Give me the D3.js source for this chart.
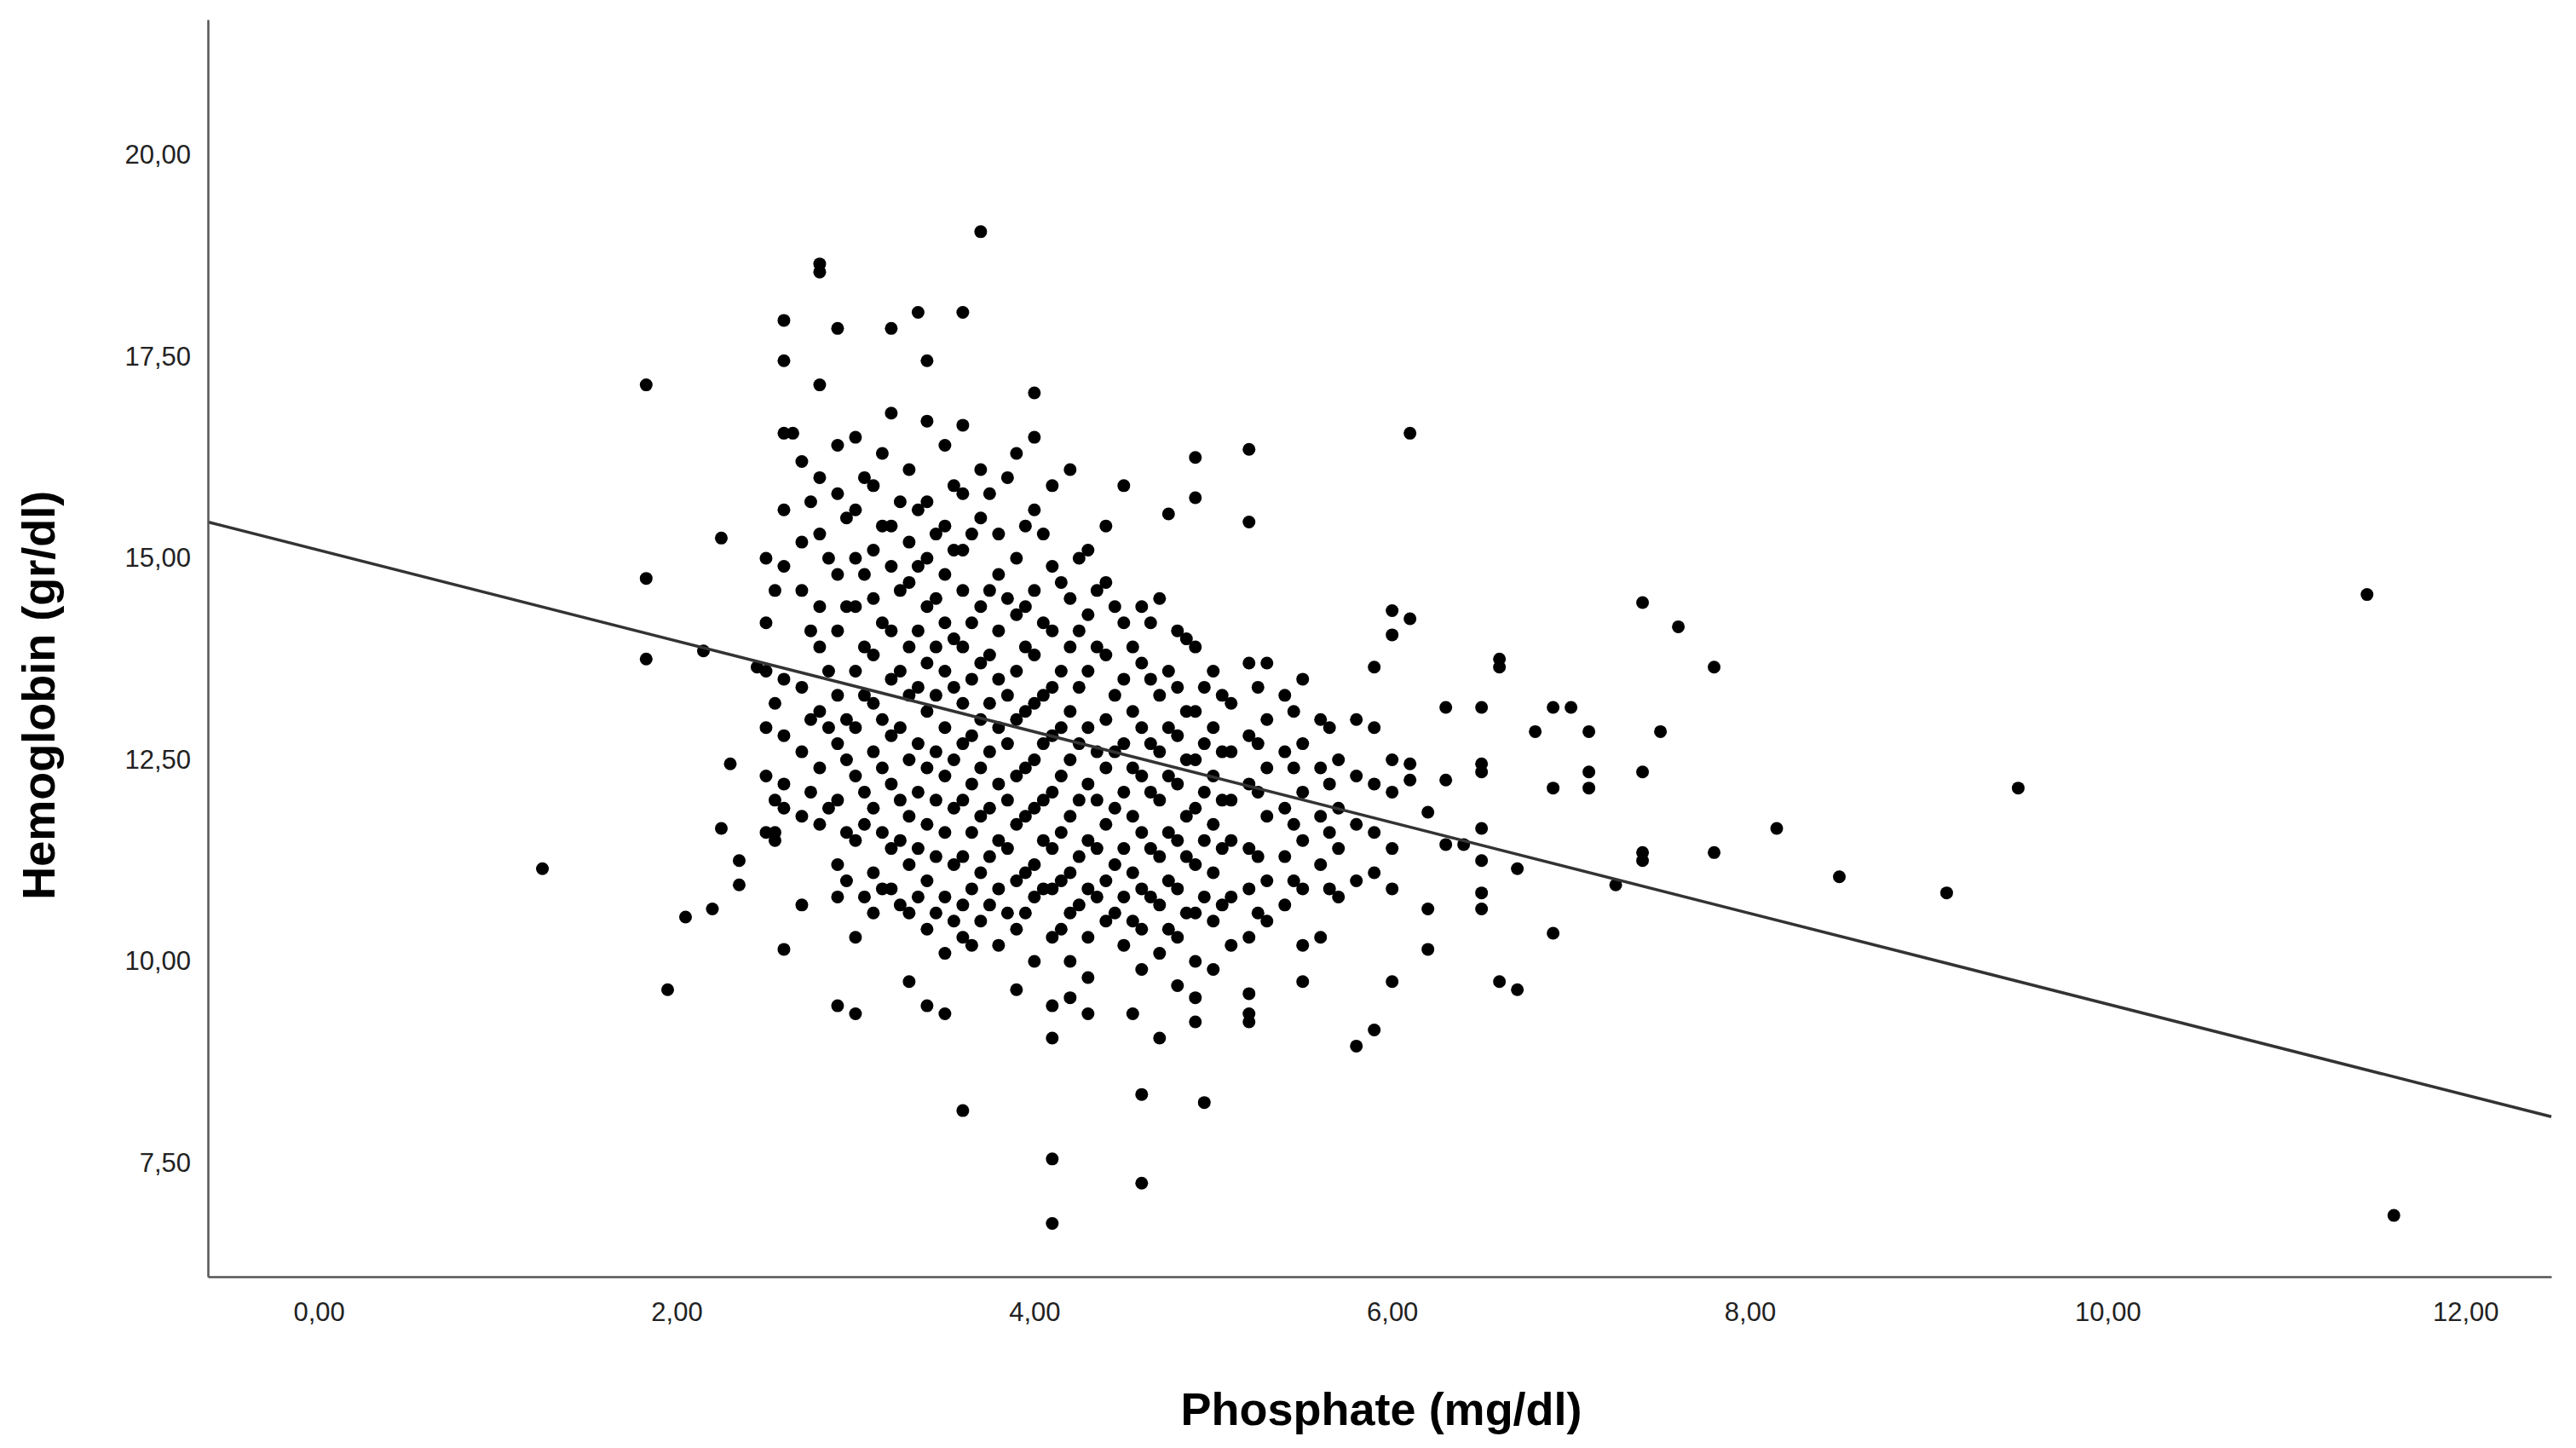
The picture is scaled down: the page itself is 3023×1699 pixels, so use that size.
<!DOCTYPE html>
<html>
<head>
<meta charset="UTF-8">
<title>Hemoglobin vs Phosphate</title>
<script src="https://d3js.org/d3.v7.min.js"></script>
<style>
  body{ margin:0; background:white; }
  svg text{ font-family: Arial, "Liberation Sans", sans-serif; }
</style>
</head>
<body>
<svg id="chart"></svg>
<script>
// scattered / outlying cases [phosphate, hemoglobin]
const outliers = [
  [1.25,11.15],[1.83,17.15],[1.83,14.75],[1.83,13.75],[1.95,9.65],[2.05,10.55],[2.15,13.85],[2.2,10.65],
  [2.25,11.65],[2.25,15.25],[2.3,12.45],[2.35,11.25],[2.35,10.95],[2.55,11.6],[2.55,11.5],[2.6,10.15],
  [2.6,17.95],[2.6,17.45],[2.8,18.65],[2.8,18.55],[3.7,19.05],[3.35,18.05],[3.6,18.05],[2.9,17.85],
  [3.2,17.85],[3.4,17.45],[4.0,17.05],[3.6,16.65],[2.6,16.55],[2.65,16.55],[2.8,17.15],[3.6,8.15],
  [4.1,7.55],[4.1,6.75],[4.6,7.25],[4.6,8.35],[4.95,8.25],[6.1,16.55],[5.2,16.35],[4.9,16.25],
  [4.75,15.55],[4.9,15.75],[5.2,15.45],[7.4,14.45],[7.6,14.15],[7.8,13.65],[7.5,12.85],[7.4,12.35],
  [7.4,11.35],[7.4,11.25],[7.25,10.95],[7.8,11.35],[8.15,11.65],[8.5,11.05],[9.1,10.85],[9.5,12.15],
  [11.45,14.55],[11.6,6.85],[6.9,10.35],[6.7,9.65],[6.6,9.75],[7.0,13.15],[7.1,12.85],[7.1,12.35],
  [7.1,12.15],[6.9,12.15],[6.8,12.85],[6.7,11.15],[6.5,10.65],[6.2,10.15],[6.2,10.65],[5.8,8.95],
  [5.9,9.15],[6.0,9.75],[5.5,9.75],[5.2,9.25],[5.2,9.35],[4.9,9.25],[4.9,9.55],[4.7,9.05],
  [4.55,9.35],[4.3,9.35],[4.1,9.05],[4.1,9.45],[4.2,9.55],[3.9,9.65],[3.4,9.45],[3.5,9.35],
  [3.3,9.75],[2.9,9.45],[3.0,9.35],[6.6,13.75],[6.6,13.65],[6.0,14.35],[6.1,14.25],[6.0,14.05],
  [5.9,13.65],[6.5,13.15],[6.3,13.15],[6.5,12.45],[6.5,12.35],[6.3,12.25],[6.5,11.65],[6.5,11.25],
  [6.4,11.45],[6.5,10.85],[6.9,13.15],[6.1,12.45],[6.1,12.25],[6.2,11.85],[6.3,11.45],[2.45,13.65]
];

// dense cloud: phosphate values and the hemoglobin values seen at each
const denseX = [2.5,2.6,2.7,2.8,2.9,3.0,3.1,3.2,3.3,3.4,3.5,3.6,3.7,3.8,3.9,4.0,4.1,4.2,
                4.3,4.4,4.5,4.6,4.7,4.8,4.9,5.0,5.1,5.2,5.3,5.4,5.5,5.6,5.7,5.8,5.9,6.0];
const denseY = [
  [15.0,14.2,13.6,12.9,12.3,11.6],
  [15.6,14.9,13.5,12.8,12.2,11.9],
  [16.2,15.2,14.6,13.4,12.6,11.8,10.7],
  [16.0,15.3,14.4,13.9,13.1,12.4,11.7],
  [16.4,15.8,14.8,14.1,13.3,12.7,12.0,11.2,10.8],
  [16.5,15.6,15.0,14.4,13.6,12.9,12.3,11.5,10.3],
  [15.9,15.1,14.5,13.8,13.2,12.6,11.9,11.1,10.6],
  [16.8,15.4,14.9,14.1,13.5,12.8,12.2,11.4,10.9],
  [16.1,15.2,14.7,13.9,13.3,12.5,11.8,11.2,10.6],
  [16.7,15.7,15.0,14.4,13.7,13.1,12.4,11.7,11.0,10.4],
  [16.4,15.4,14.8,14.2,13.6,12.9,12.3,11.6,10.8,10.1],
  [15.8,15.1,14.6,13.9,13.2,12.7,12.0,11.3,10.7,10.3],
  [16.1,15.5,14.4,13.7,13.0,12.4,11.8,11.1,10.5],
  [15.3,14.8,14.1,13.5,12.9,12.2,11.5,10.9,10.2],
  [16.3,15.0,14.3,13.6,13.0,12.3,11.7,11.0,10.4],
  [16.5,15.6,14.6,13.8,13.2,12.5,11.9,11.2,10.8,10.0],
  [15.9,14.9,14.1,13.4,12.8,12.1,11.4,10.9,10.3],
  [16.1,14.5,13.9,13.1,12.5,11.8,11.1,10.6,10.0],
  [15.1,14.3,13.6,12.9,12.2,11.5,10.9,10.3,9.8],
  [15.4,14.7,13.8,13.0,12.4,11.7,11.0,10.5],
  [15.9,14.2,13.5,12.7,12.1,11.4,10.8,10.2],
  [14.4,13.7,12.9,12.3,11.6,10.9,10.4,9.9],
  [14.5,13.3,12.6,12.0,11.3,10.7,10.1],
  [14.1,13.4,12.8,12.2,11.5,10.9,10.3,9.7],
  [13.9,13.1,12.5,11.9,11.2,10.6,10.0],
  [13.6,12.9,12.3,11.7,11.1,10.5,9.9],
  [13.2,12.6,12.0,11.5,10.8,10.2],
  [13.7,12.8,12.2,11.4,10.9,10.3,9.6],
  [13.7,13.0,12.4,11.8,11.0,10.5],
  [13.3,12.6,11.9,11.3,10.7],
  [13.5,12.7,12.1,11.5,10.9,10.2],
  [13.0,12.4,11.8,11.2,10.3],
  [12.5,11.9,11.4,10.8],
  [13.0,12.3,11.7,11.0],
  [12.9,12.2,11.6,11.1],
  [12.5,12.1,11.4,10.9]
];

// second reading of the cloud, cases lying between the columns above
const denseX2 = [2.55,2.75,2.85,2.95,3.05,3.15,3.25,3.35,3.45,3.55,3.65,3.75,3.85,3.95,
                 4.05,4.15,4.25,4.35,4.45,4.55,4.65,4.75,4.85,4.95,5.05,5.25,5.45,5.65];
const denseY2 = [
  [14.6,13.2,12.0],
  [15.7,14.1,13.0,12.1],
  [15.0,13.6,12.9,11.9],
  [15.5,14.4,13.0,12.5,11.6,11.0],
  [16.0,14.8,13.9,13.3,12.1,11.7,10.8],
  [16.3,15.4,14.2,13.0,12.4,11.6,10.9],
  [15.7,14.6,13.6,12.9,12.0,11.5,10.7],
  [15.6,14.9,14.1,13.4,12.7,12.1,11.4,10.8],
  [15.3,14.5,13.9,13.3,12.6,12.0,11.3,10.6],
  [15.9,15.1,14.0,13.4,12.5,11.9,11.2,10.5],
  [15.3,14.2,13.5,12.8,12.2,11.6,10.9,10.2],
  [15.8,14.6,13.8,13.2,12.6,11.9,11.3,10.7],
  [16.0,14.5,13.3,12.7,12.0,11.4,10.6],
  [15.4,14.4,13.9,13.1,12.4,11.8,11.1,10.6],
  [15.3,14.2,13.3,12.7,12.0,11.5,10.9],
  [14.7,13.6,12.9,12.3,11.6,11.0,10.4],
  [15.0,14.1,13.4,12.7,12.0,11.3,10.7],
  [14.6,13.9,12.6,12.0,11.4,10.8],
  [14.4,13.3,12.6,11.9,11.2,10.6],
  [13.9,13.1,12.4,11.8,11.1,10.5],
  [14.2,13.5,12.7,12.1,11.4,10.8],
  [13.6,12.9,12.3,11.6,11.0,10.4],
  [14.0,13.1,12.5,11.8,11.3,10.6],
  [13.4,12.7,12.1,11.5,10.8],
  [13.3,12.6,12.0,11.4,10.7],
  [13.4,12.7,12.1,11.3,10.6],
  [13.1,12.4,11.7,11.0],
  [12.9,12.2,11.6,10.9]
];

const xTicks = [0,2,4,6,8,10,12];
const yTicks = [7.5,10,12.5,15,17.5,20];
const fitLine = {intercept: 15.10, slope: -0.563};

const fmt = d => d3.format(".2f")(d).replace(".", ",");

const W = 3023, H = 1699;
const m = {left:244, right:29, top:23, bottom:201};
const iw = W - m.left - m.right, ih = H - m.top - m.bottom;

const svg = d3.select("#chart").attr("width", W).attr("height", H);
const g = svg.append("g").attr("transform", `translate(${m.left},${m.top})`);

const x = d3.scaleLinear().domain([-0.62, 12.48]).range([0, iw]);
const y = d3.scaleLinear().domain([6.09, 21.68]).range([ih, 0]);

const points = outliers.slice();
denseX.forEach((px, i) => denseY[i].forEach(py => points.push([px, py])));
denseX2.forEach((px, i) => denseY2[i].forEach(py => points.push([px, py])));

g.selectAll("circle").data(points).enter().append("circle")
  .attr("cx", d => x(d[0])).attr("cy", d => y(d[1]))
  .attr("r", 7.5).attr("fill", "black");

g.append("line")
  .attr("x1", x(-0.62)).attr("y1", y(fitLine.intercept + fitLine.slope * -0.62))
  .attr("x2", x(12.48)).attr("y2", y(fitLine.intercept + fitLine.slope * 12.48))
  .attr("stroke", "#333").attr("stroke-width", 3.5);

const xa = g.append("g").attr("transform", `translate(0,${ih})`)
  .call(d3.axisBottom(x).tickValues(xTicks).tickFormat(fmt).tickSize(0).tickPadding(30));
const ya = g.append("g")
  .call(d3.axisLeft(y).tickValues(yTicks).tickFormat(fmt).tickSize(0).tickPadding(20));
[xa, ya].forEach(a => {
  a.select(".domain").attr("stroke", "#555").attr("stroke-width", 2.5);
  a.selectAll("text").attr("font-size", 31).attr("fill", "#222")
    .style("font-family", "Arial, 'Liberation Sans', sans-serif");
});

svg.append("text").attr("x", m.left + x(5.94)).attr("y", 1672)
  .attr("text-anchor", "middle").attr("font-size", 54).attr("font-weight", "bold")
  .text("Phosphate (mg/dl)");
svg.append("text").attr("transform", `translate(64,${m.top + y(13.3)}) rotate(-90)`)
  .attr("text-anchor", "middle").attr("font-size", 54).attr("font-weight", "bold")
  .text("Hemoglobin (gr/dl)");
</script>
</body>
</html>
